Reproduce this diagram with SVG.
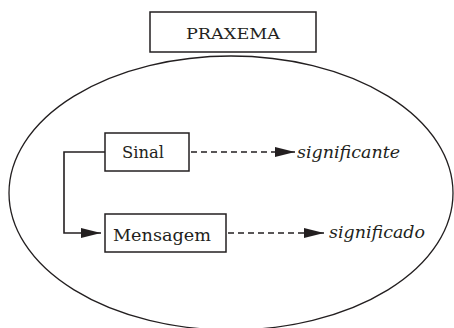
<svg xmlns="http://www.w3.org/2000/svg" width="454" height="328" viewBox="0 0 454 328">
<style>
.box{fill:#fff;stroke:#231f20;stroke-width:1.5}
.t{font-family:"DejaVu Serif","Liberation Serif",serif;fill:#231f20}
.i{font-family:"DejaVu Serif","Liberation Serif",serif;font-style:italic;fill:#231f20}
.solid{fill:none;stroke:#231f20;stroke-width:1.6}
.dash{fill:none;stroke:#231f20;stroke-width:1.5;stroke-dasharray:6,4}
</style>
<defs>
<marker id="ah" markerUnits="userSpaceOnUse" markerWidth="21" markerHeight="11" refX="20" refY="5" orient="auto">
<path d="M0,0 L20,5 L0,10 z" fill="#231f20"/>
</marker>
</defs>
<rect width="454" height="328" fill="#fff"/>
<ellipse id="praxema-ellipse" cx="231" cy="193" rx="222" ry="137" fill="none" stroke="#231f20" stroke-width="1.3"/>
<g id="praxema">
<rect class="box" x="150" y="12" width="166" height="40"/>
<text class="t" x="233" y="39" font-size="15" text-anchor="middle" textLength="94" lengthAdjust="spacingAndGlyphs">PRAXEMA</text>
</g>
<g id="sinal">
<rect class="box" x="105" y="133" width="84" height="38"/>
<text class="t" x="122" y="158" font-size="17" textLength="42" lengthAdjust="spacingAndGlyphs">Sinal</text>
</g>
<g id="mensagem">
<rect class="box" x="105" y="214" width="121" height="38"/>
<text class="t" x="113" y="241" font-size="17" textLength="98" lengthAdjust="spacingAndGlyphs">Mensagem</text>
</g>
<g id="significante">
<text class="i" x="297" y="158" font-size="16" textLength="103" lengthAdjust="spacingAndGlyphs">significante</text>
</g>
<g id="significado">
<text class="i" x="329" y="238" font-size="16" textLength="96" lengthAdjust="spacingAndGlyphs">significado</text>
</g>
<g id="connectors">
<polyline class="solid" points="105,152 64,152 64,233 101,233" marker-end="url(#ah)"/>
<line class="dash" x1="191" y1="152" x2="295" y2="152" marker-end="url(#ah)"/>
<line class="dash" x1="228" y1="233" x2="324" y2="233" marker-end="url(#ah)"/>
</g>
</svg>
